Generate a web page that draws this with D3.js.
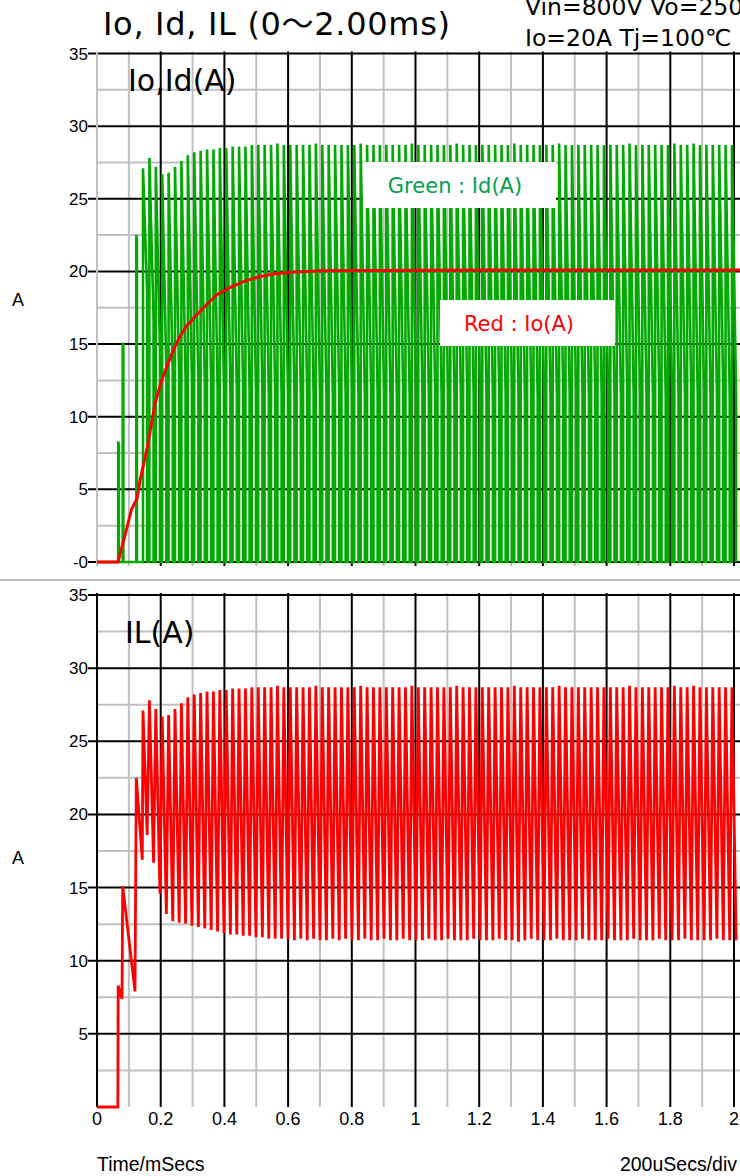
<!DOCTYPE html>
<html>
<head>
<meta charset="utf-8">
<script src="https://cdn.jsdelivr.net/npm/d3@7"></script>
<style>
  body { margin: 0; background: #fff; }
  svg { display: block; }
</style>
</head>
<body>
<div id="chart"></div>
<script>
// x axis ticks (ms) and y axis ticks (A)
var timeTicks = [0, 0.2, 0.4, 0.6, 0.8, 1, 1.2, 1.4, 1.6, 1.8, 2];
var timeTickLabels = ["0", "0.2", "0.4", "0.6", "0.8", "1", "1.2", "1.4", "1.6", "1.8", "2"];
var ampTicks = [0, 5, 10, 15, 20, 25, 30, 35];
var topAmpLabels = ["-0", "5", "10", "15", "20", "25", "30", "35"];
var botAmpLabels = ["", "5", "10", "15", "20", "25", "30", "35"];

// start-up pulses (irregular)
var startPeakT = [0.0665, 0.0807, 0.1234];
var startPeak = [8.3, 15.1, 22.5];
var startValleyT = [0.0785, 0.1193, 0.1422];
var startValley = [7.4, 7.9, 16.9];
var startIdEndT = [0.0685, 0.0827, 0.1254];
var startIdEnd = [8.1, 14.8, 22.2];

// regular switching cycles after start-up
var firstCycleT = 0.1444;
var switchPeriod = 0.0201;
var onTime = 0.007;
var cyclePeak = [
  27.1, 27.8, 27.2, 26.7, 26.8, 27.2, 27.6, 28.0, 28.2, 28.3,
  28.4, 28.4, 28.5, 28.5, 28.6, 28.6, 28.6, 28.7, 28.7, 28.7,
  28.7, 28.8, 28.7, 28.7, 28.7, 28.7, 28.7, 28.8, 28.7, 28.7,
  28.7, 28.7, 28.7, 28.7, 28.8, 28.7, 28.7, 28.7, 28.7, 28.7,
  28.7, 28.7, 28.8, 28.7, 28.7, 28.7, 28.7, 28.7, 28.7, 28.8,
  28.7, 28.7, 28.7, 28.7, 28.7, 28.7, 28.7, 28.7, 28.8, 28.7,
  28.7, 28.7, 28.7, 28.7, 28.7, 28.8, 28.7, 28.7, 28.7, 28.7,
  28.7, 28.7, 28.7, 28.7, 28.7, 28.7, 28.8, 28.7, 28.7, 28.7,
  28.7, 28.7, 28.7, 28.8, 28.7, 28.7, 28.8, 28.7, 28.7, 28.7,
  28.7, 28.7, 28.7
];
var cycleValley = [
  18.6, 16.7, 14.6, 13.2, 12.7, 12.6, 12.55, 12.4, 12.3, 12.2,
  12.1, 12.0, 11.9, 11.8, 11.8, 11.7, 11.7, 11.6, 11.6, 11.5,
  11.5, 11.5, 11.5, 11.4, 11.5, 11.4, 11.5, 11.4, 11.4, 11.5,
  11.4, 11.5, 11.4, 11.4, 11.5, 11.4, 11.4, 11.5, 11.4, 11.4,
  11.5, 11.4, 11.4, 11.4, 11.5, 11.4, 11.4, 11.5, 11.4, 11.4,
  11.4, 11.5, 11.4, 11.4, 11.4, 11.5, 11.4, 11.4, 11.3, 11.4,
  11.5, 11.4, 11.4, 11.4, 11.5, 11.4, 11.4, 11.4, 11.5, 11.4,
  11.4, 11.4, 11.5, 11.4, 11.4, 11.4, 11.5, 11.4, 11.4, 11.4,
  11.5, 11.4, 11.4, 11.4, 11.5, 11.4, 11.4, 11.4, 11.4, 11.5,
  11.4, 11.4, 11.4
];

// output current Io
var ioT = [0, 0.066, 0.092, 0.108, 0.126, 0.135, 0.158, 0.17, 0.182, 0.2, 0.22, 0.24, 0.26, 0.28, 0.308, 0.334, 0.376, 0.418, 0.46, 0.512, 0.564, 0.616, 0.7, 1.2, 1.6, 2.03];
var ioV = [0, 0, 2.2, 3.6, 4.4, 5.6, 7.9, 9.4, 10.9, 12.3, 13.5, 14.6, 15.5, 16.2, 16.9, 17.5, 18.4, 18.9, 19.3, 19.65, 19.85, 19.95, 20.05, 20.1, 20.1, 20.1];

var width = 740, height = 1176;
var svg = d3.select("#chart").append("svg")
  .attr("width", width)
  .attr("height", height);

var x = d3.scaleLinear().domain([0, 2]).range([97, 734]);
var yTop = d3.scaleLinear().domain([0, 35]).range([562, 53.5]);
var yBot = d3.scaleLinear().domain([0, 35]).range([1107, 595]);

var black = "#000", gray = "#c0c0c0";
var tickFont = "'Liberation Sans', Arial, sans-serif";
var labelFont = "'DejaVu Sans', 'Noto Sans CJK JP', sans-serif";

// build pulse list
var peakT = startPeakT.slice(), peakV = startPeak.slice();
var valT = startValleyT.slice(), valV = startValley.slice();
cyclePeak.forEach(function(p, k) {
  var t = firstCycleT + k * switchPeriod;
  peakT.push(t); peakV.push(p);
  valT.push(t + switchPeriod - onTime); valV.push(cycleValley[k]);
});

var ilPts = [[0, 0], [0.0655, 0]];
var idPts = [[0, 0]];
peakT.forEach(function(t, i) {
  ilPts.push([t, peakV[i]]);
  ilPts.push([valT[i], valV[i]]);
  if (i < startPeakT.length) {
    idPts.push([t, 0], [t, peakV[i]], [startIdEndT[i], startIdEnd[i]], [startIdEndT[i], 0]);
  } else {
    idPts.push([t, 0], [t, peakV[i]], [valT[i], valV[i]], [valT[i], 0]);
  }
});
var ioPts = ioT.map(function(t, i) { return [t, ioV[i]]; });

function drawGrid(y, yTopExt, yBotExt, axisColor, zeroLine, labels) {
  var g = svg.append("g");
  // minor verticals
  d3.range(1, 20, 2).forEach(function(i) {
    g.append("line").attr("x1", x(i / 10)).attr("x2", x(i / 10))
      .attr("y1", y(35) - yTopExt).attr("y2", y(0) + yBotExt)
      .attr("stroke", gray).attr("stroke-width", 2);
  });
  // minor horizontals
  d3.range(2.5, 35, 5).forEach(function(v) {
    g.append("line").attr("x1", x(0)).attr("x2", width)
      .attr("y1", y(v)).attr("y2", y(v))
      .attr("stroke", gray).attr("stroke-width", 2);
  });
  // major horizontals + ticks
  ampTicks.forEach(function(v) {
    if (v === 0 && !zeroLine) return;
    g.append("line").attr("x1", x(0) - 9).attr("x2", width)
      .attr("y1", y(v)).attr("y2", y(v))
      .attr("stroke", black).attr("stroke-width", 2);
  });
  ampTicks.forEach(function(v, i) {
    if (!labels[i]) return;
    g.append("text").attr("x", x(0) - 9).attr("y", y(v) + 6)
      .attr("text-anchor", "end").attr("font-family", tickFont)
      .attr("font-size", 17).text(labels[i]);
  });
  // major verticals
  timeTicks.forEach(function(t) {
    g.append("line").attr("x1", x(t)).attr("x2", x(t))
      .attr("y1", y(35) - yTopExt).attr("y2", y(0) + yBotExt)
      .attr("stroke", t === 0 ? axisColor : black).attr("stroke-width", 2);
  });
}

drawGrid(yTop, 2, 4, gray, true, topAmpLabels);
drawGrid(yBot, 2, 0, black, false, botAmpLabels);

// separator
svg.append("line").attr("x1", 0).attr("x2", width).attr("y1", 580).attr("y2", 580)
  .attr("stroke", gray).attr("stroke-width", 2);

var lineTop = d3.line().x(function(d) { return x(d[0]); }).y(function(d) { return yTop(d[1]); });
var lineBot = d3.line().x(function(d) { return x(d[0]); }).y(function(d) { return yBot(d[1]); });

svg.append("path").datum(idPts).attr("d", lineTop)
  .attr("fill", "none").attr("stroke", "#00aa00").attr("stroke-width", 2.6);
svg.append("path").datum(ioPts).attr("d", lineTop)
  .attr("fill", "none").attr("stroke", "#ff0000").attr("stroke-width", 3);
svg.append("path").datum(ilPts).attr("d", lineBot)
  .attr("fill", "none").attr("stroke", "#ff0000").attr("stroke-width", 2.8);

// legend boxes
svg.append("rect").attr("x", 363).attr("y", 162).attr("width", 193).attr("height", 46).attr("fill", "#fff");
svg.append("text").attr("x", 455).attr("y", 193).attr("text-anchor", "middle")
  .attr("font-family", labelFont).attr("font-size", 21).attr("fill", "#00a050")
  .text("Green : Id(A)");
svg.append("rect").attr("x", 440).attr("y", 300).attr("width", 175).attr("height", 46).attr("fill", "#fff");
svg.append("text").attr("x", 519).attr("y", 331).attr("text-anchor", "middle")
  .attr("font-family", labelFont).attr("font-size", 21).attr("fill", "#ff0000")
  .text("Red : Io(A)");

// x labels
timeTicks.forEach(function(t, i) {
  svg.append("text").attr("x", x(t)).attr("y", 1125).attr("text-anchor", "middle")
    .attr("font-family", tickFont).attr("font-size", 18).text(timeTickLabels[i]);
});
svg.append("text").attr("x", 97).attr("y", 1171).attr("font-family", tickFont)
  .attr("font-size", 19.5).text("Time/mSecs");
svg.append("text").attr("x", 737).attr("y", 1171).attr("text-anchor", "end")
  .attr("font-family", tickFont).attr("font-size", 19.5).text("200uSecs/div");

// y axis titles
svg.append("text").attr("x", 18).attr("y", 306).attr("text-anchor", "middle")
  .attr("font-family", tickFont).attr("font-size", 18).text("A");
svg.append("text").attr("x", 18).attr("y", 864).attr("text-anchor", "middle")
  .attr("font-family", tickFont).attr("font-size", 18).text("A");

// titles
svg.append("text").attr("x", 103).attr("y", 35).attr("font-family", labelFont)
  .attr("font-size", 32).attr("textLength", 347).attr("lengthAdjust", "spacing")
  .text("Io, Id, IL (0～2.00ms)");
svg.append("text").attr("x", 525).attr("y", 15).attr("font-family", labelFont)
  .attr("font-size", 23.5).text("Vin=800V Vo=250V");
svg.append("text").attr("x", 525).attr("y", 46).attr("font-family", labelFont)
  .attr("font-size", 23.5).text("Io=20A Tj=100℃");
svg.append("text").attr("x", 128).attr("y", 91).attr("font-family", labelFont)
  .attr("font-size", 30).text("Io,Id(A)");
svg.append("text").attr("x", 125).attr("y", 643).attr("font-family", labelFont)
  .attr("font-size", 30).text("IL(A)");
</script>
</body>
</html>
